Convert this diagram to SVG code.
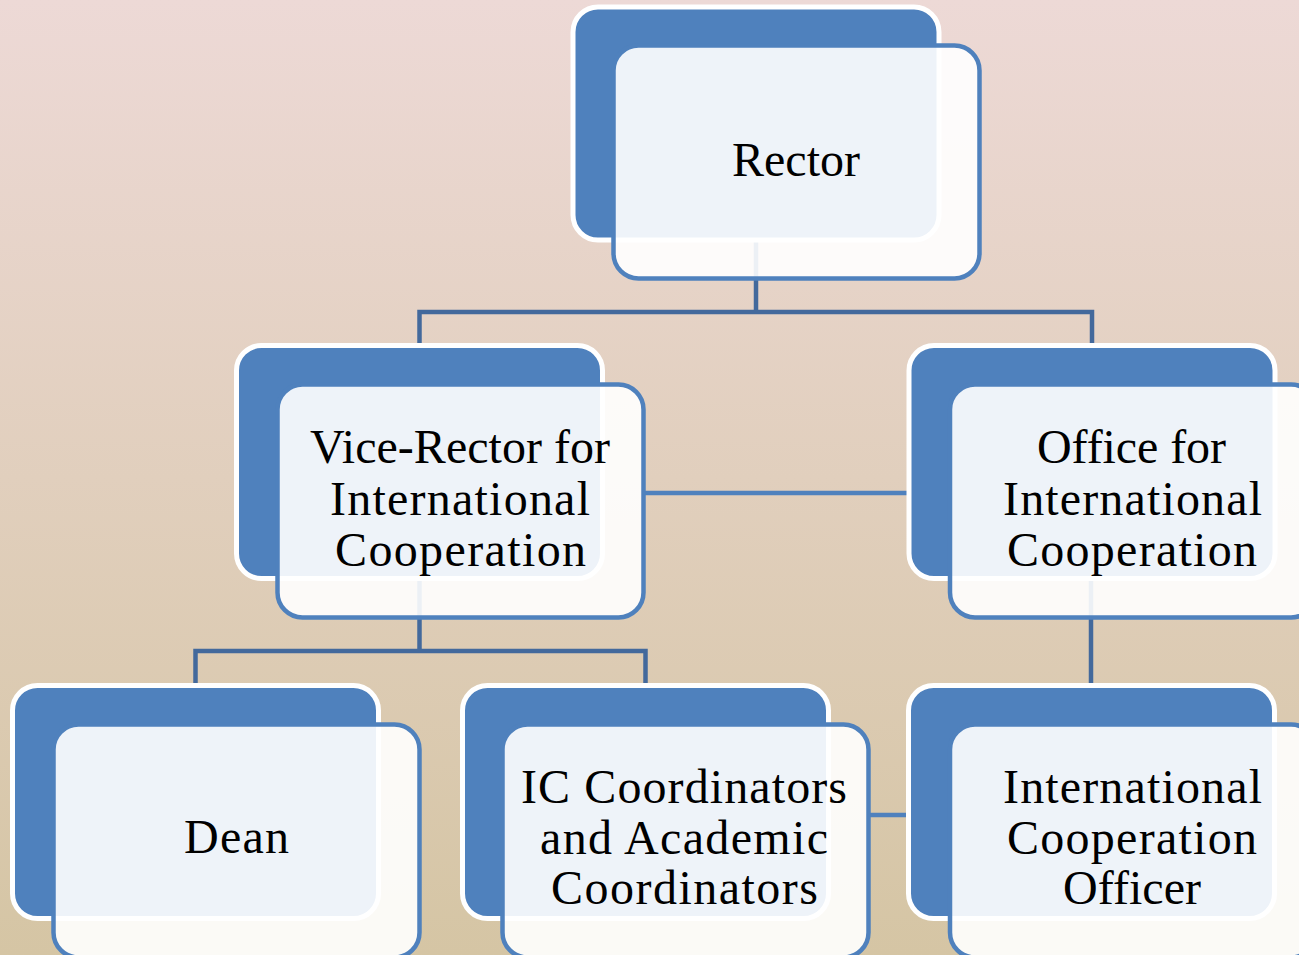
<svg xmlns="http://www.w3.org/2000/svg" width="1299" height="955" viewBox="0 0 1299 955">
<defs>
<linearGradient id="bg" x1="0" y1="0" x2="0" y2="1">
<stop offset="0" stop-color="#EDD9D6"/>
<stop offset="1" stop-color="#D5C5A4"/>
</linearGradient>
</defs>
<style>
.back{fill:#4F81BD;stroke:#FFFFFF;stroke-width:5}
.front{fill:#FFFFFF;fill-opacity:0.9;stroke:#4F81BD;stroke-width:4.5}
.conn{fill:none;stroke:#43699C;stroke-width:4.5}
.conn2{fill:none;stroke:#4F81BD;stroke-width:4.5}
.lbl{font-family:"Liberation Serif","Times New Roman",serif;font-size:48px;fill:#000;text-anchor:middle}
</style>
<rect x="0" y="0" width="1299" height="955" fill="url(#bg)"/>
<g id="connectors">
<path class="conn" d="M756 240 V312 M419.5 345 V312 H1092 V345"/>
<path class="conn" d="M419.5 580 V651 M195.5 685 V651 H645.5 V685"/>
<path class="conn" d="M1091 580 V685"/>
<path class="conn2" d="M645 493 H910"/>
<path class="conn2" d="M867 815 H909"/>
</g>
<g id="rector">
<rect class="back" x="573" y="7" width="366" height="233" rx="25"/>
<rect class="front" x="613.5" y="45.5" width="366" height="233" rx="25"/>
<text class="lbl" x="796" y="176" textLength="128" lengthAdjust="spacing">Rector</text>
</g>
<g id="vicerector">
<rect class="back" x="236.5" y="345.5" width="366" height="233" rx="25"/>
<rect class="front" x="277.5" y="384.5" width="366" height="233" rx="25"/>
<text class="lbl" x="460" y="463" textLength="300" lengthAdjust="spacing">Vice-Rector for</text>
<text class="lbl" x="460" y="514.5" textLength="260" lengthAdjust="spacing">International</text>
<text class="lbl" x="460.5" y="566" textLength="251" lengthAdjust="spacing">Cooperation</text>
</g>
<g id="office">
<rect class="back" x="909" y="345.5" width="366" height="233" rx="25"/>
<rect class="front" x="950" y="384.5" width="366" height="233" rx="25"/>
<text class="lbl" x="1131.5" y="463" textLength="189" lengthAdjust="spacing">Office for</text>
<text class="lbl" x="1132.5" y="514.5" textLength="259" lengthAdjust="spacing">International</text>
<text class="lbl" x="1132" y="566" textLength="250" lengthAdjust="spacing">Cooperation</text>
</g>
<g id="dean">
<rect class="back" x="12.5" y="685.5" width="366" height="233" rx="25"/>
<rect class="front" x="53.5" y="724.5" width="366" height="233" rx="25"/>
<text class="lbl" x="236.5" y="853" textLength="105" lengthAdjust="spacing">Dean</text>
</g>
<g id="iccoord">
<rect class="back" x="462.5" y="685.5" width="366" height="233" rx="25"/>
<rect class="front" x="502.5" y="724.5" width="366" height="233" rx="25"/>
<text class="lbl" x="684" y="803" textLength="326" lengthAdjust="spacing">IC Coordinators</text>
<text class="lbl" x="684" y="853.5" textLength="288" lengthAdjust="spacing">and Academic</text>
<text class="lbl" x="684.5" y="904" textLength="267" lengthAdjust="spacing">Coordinators</text>
</g>
<g id="icofficer">
<rect class="back" x="908.5" y="685.5" width="366" height="233" rx="25"/>
<rect class="front" x="950" y="724.5" width="366" height="233" rx="25"/>
<text class="lbl" x="1132.5" y="803" textLength="259" lengthAdjust="spacing">International</text>
<text class="lbl" x="1132" y="853.5" textLength="250" lengthAdjust="spacing">Cooperation</text>
<text class="lbl" x="1132" y="904" textLength="138" lengthAdjust="spacing">Officer</text>
</g>
</svg>
